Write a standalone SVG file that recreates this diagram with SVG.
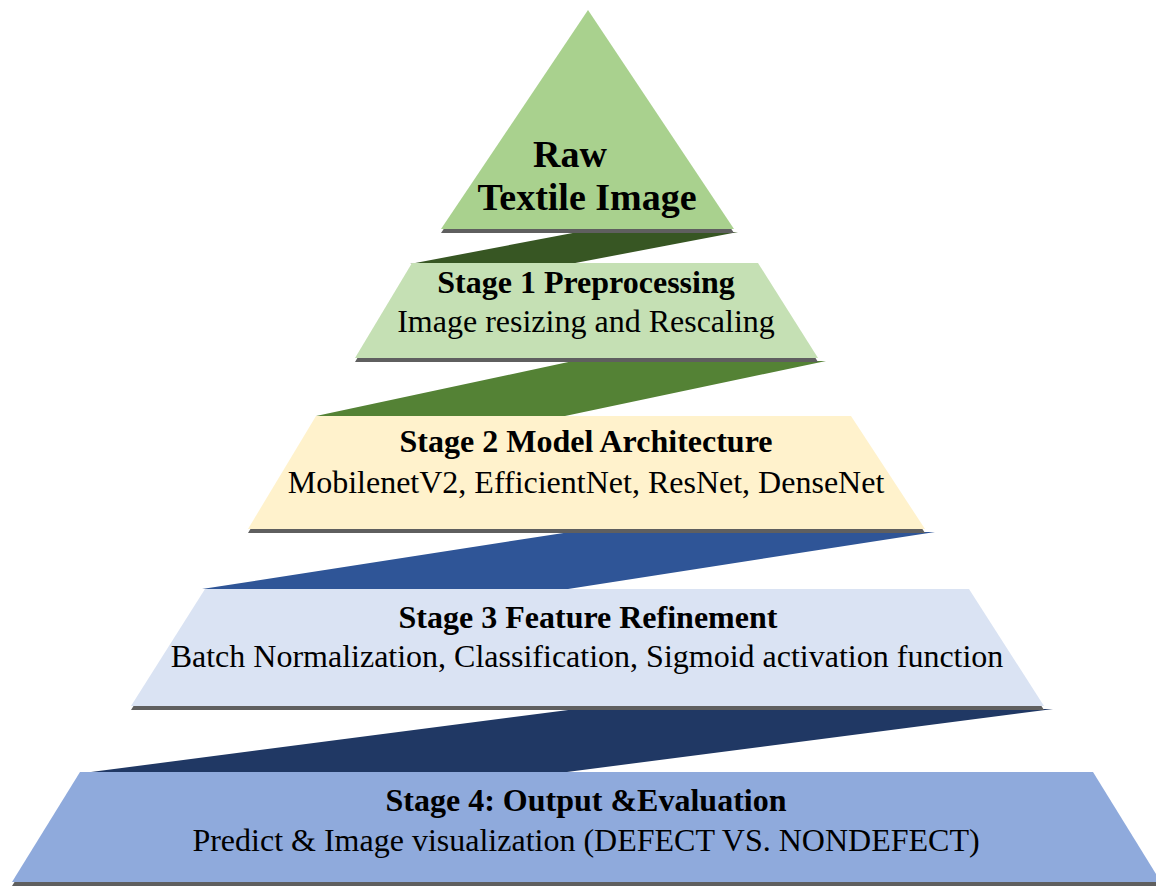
<svg xmlns="http://www.w3.org/2000/svg" width="1156" height="886" viewBox="0 0 1156 886">
  <style>
    .shadow { fill: #5f5f5f; }
    .title { font-family: "Liberation Serif", "Times New Roman", serif; font-weight: bold; font-size: 32px; fill: #000; text-anchor: middle; }
    .desc { font-family: "Liberation Serif", "Times New Roman", serif; font-size: 32px; fill: #000; text-anchor: middle; }
    .top { font-family: "Liberation Serif", "Times New Roman", serif; font-weight: bold; font-size: 38px; fill: #000; text-anchor: middle; }
  </style>
  <rect width="1156" height="886" fill="#ffffff"/>

  <!-- slanted bands linking each level to the next -->
  <g id="connectors">
    <polygon points="578,232 738,232 570,264 410,264" fill="#375623"/>
    <polygon points="573,361 826,361 565,416 316,416" fill="#548235"/>
    <polygon points="570,532 935,532 568,589 202,589" fill="#2F5597"/>
    <polygon points="576,709 1053,709 567,772 91,772" fill="#203864"/>
  </g>

  <g id="raw-image">
    <polygon class="shadow" points="588,14 734,233 441,233"/>
    <polygon points="588,10 734,229 441,229" fill="#A9D18E"/>
    <text class="top" x="570" y="167">Raw</text>
    <text class="top" x="587" y="210">Textile Image</text>
  </g>

  <g id="stage1">
    <polygon class="shadow" points="412,267 758,267 818,362 355,362"/>
    <polygon points="412,263 758,263 818,358 355,358" fill="#C5E0B4"/>
    <text class="title" x="586" y="293">Stage 1 Preprocessing</text>
    <text class="desc" x="586" y="332">Image resizing and Rescaling</text>
  </g>

  <g id="stage2">
    <polygon class="shadow" points="316,420 851,420 925,533 248,533"/>
    <polygon points="316,416 851,416 925,529 248,529" fill="#FFF2CC"/>
    <text class="title" x="586" y="452">Stage 2 Model Architecture</text>
    <text class="desc" x="586" y="493">MobilenetV2, EfficientNet, ResNet, DenseNet</text>
  </g>

  <g id="stage3">
    <polygon class="shadow" points="205,593 969,593 1044,710 131,710"/>
    <polygon points="205,589 969,589 1044,706 131,706" fill="#DAE3F3"/>
    <text class="title" x="588" y="628">Stage 3 Feature Refinement</text>
    <text class="desc" x="587" y="667">Batch Normalization, Classification, Sigmoid activation function</text>
  </g>

  <g id="stage4">
    <polygon class="shadow" points="80,776 1093,776 1161,886 12,886"/>
    <polygon points="80,772 1093,772 1161,882 12,882" fill="#8FAADC"/>
    <text class="title" x="586" y="811">Stage 4: Output &amp;Evaluation</text>
    <text class="desc" x="586" y="851">Predict &amp; Image visualization (DEFECT VS. NONDEFECT)</text>
  </g>
</svg>
